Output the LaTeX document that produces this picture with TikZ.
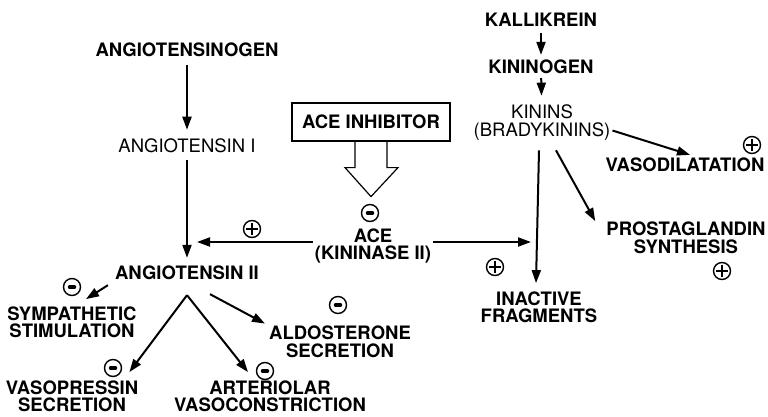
\documentclass[tikz,border=0pt]{standalone}
\usepackage{fontspec}
\setmainfont{TeX Gyre Heros}
\usetikzlibrary{arrows.meta,positioning}

\begin{document}
\begin{tikzpicture}[
    x=1pt, y=-1pt,
    lbl/.style={align=center, inner sep=2pt, font=\fontsize{18.5}{17.5}\selectfont\bfseries},
    lightlbl/.style={lbl, font=\fontsize{18.5}{17.5}\selectfont},
    arrow/.style={-{Triangle[length=13pt,width=9pt]}, line width=2pt},
    sign/.style={circle, draw, line width=1.4pt, minimum size=17pt, inner sep=0pt},
    plus/.style={sign, path picture={\draw[line width=1.4pt] ([xshift=-6pt]path picture bounding box.center) -- ([xshift=6pt]path picture bounding box.center) ([yshift=-6pt]path picture bounding box.center) -- ([yshift=6pt]path picture bounding box.center);}},
    minus/.style={sign, path picture={\draw[line width=3.5pt, line cap=round] ([xshift=-2.5pt]path picture bounding box.center) -- ([xshift=2.5pt]path picture bounding box.center);}}
  ]
    \useasboundingbox (0,0) rectangle (768,416);
    % renin-angiotensin side
    \node[lbl] (agen) at (187,50) {ANGIOTENSINOGEN};
    \node[lightlbl] (a1) at (187,146) {ANGIOTENSIN I};
    \node[lbl] (a2) at (187,273) {ANGIOTENSIN II};
    \node[lbl] (symp) at (72,322) {SYMPATHETIC\\STIMULATION};
    \node[lbl] (aldo) at (340,341.5) {ALDOSTERONE\\SECRETION};
    \node[lbl, inner sep=0pt] (vpr) at (72,396) {VASOPRESSIN\\SECRETION};
    \node[lbl, inner sep=0pt] (art) at (270,396) {ARTERIOLAR\\VASOCONSTRICTION};
    % enzyme and inhibitor
    \node[lbl, draw, line width=1.2pt, minimum width=158pt, minimum height=38pt] (inh) at (371,122) {ACE INHIBITOR};
    \node[lbl] (ace) at (373,246) {ACE\\(KININASE II)};
    % kinin side
    \node[lbl] (kal) at (541,20) {KALLIKREIN};
    \node[lbl] (kgen) at (541,67) {KININOGEN};
    \node[lightlbl] (kin) at (542,122.5) {KININS\\(BRADYKININS)};
    \node[lbl] (vaso) at (685,165) {VASODILATATION};
    \node[lbl] (inact) at (539,307) {INACTIVE\\FRAGMENTS};
    \node[lbl] (prost) at (686,238) {PROSTAGLANDIN\\SYNTHESIS};
    % signs
    \node[minus] (m0) at (370,213) {};
    \node[plus] (p1) at (252,229) {};
    \node[plus] (p2) at (495,267) {};
    \node[plus] (p3) at (752,145) {};
    \node[plus] (p4) at (722,271) {};
    \node[minus] (m1) at (72,287) {};
    \node[minus] (m2) at (338,305) {};
    \node[minus] (m3) at (113,368) {};
    \node[minus] (m4) at (265,371) {};
    % hollow arrow of the inhibitor
    \draw[line width=1.2pt, line join=miter] ([xshift=-16pt]inh.south) -- ++(0,26) -- ++(-10,0) -- ++(26,29) -- ++(27,-29) -- ++(-11,0) -- ++(0,-26);
    % connectors
    \draw[arrow, shorten <=6pt, shorten >=7pt] (agen) -- (a1);
    \draw[arrow, shorten <=5pt, shorten >=6pt] (a1) -- (a2);
    \draw[arrow, shorten >=10pt] ([yshift=4pt]ace.west) -- ([yshift=4pt]ace.west -| a2);
    \draw[arrow, shorten >=8pt] ([yshift=4pt]ace.east) -- ([yshift=4pt]ace.east -| inact);
    \draw[arrow, shorten <=4pt, shorten >=3pt] (kal) -- (kgen);
    \draw[arrow, shorten <=2pt, shorten >=7pt] (kgen) -- (kin);
    \draw[arrow] ([xshift=-3pt,yshift=-8pt]kin.south) -- ([xshift=-3pt,yshift=6pt]inact.north);
    \draw[arrow] ([xshift=14pt,yshift=-8pt]kin.south) -- ([xshift=-9pt,yshift=-1pt]prost.north west);
    \draw[arrow] ([yshift=-8pt]kin.east) -- ([xshift=5pt,yshift=1pt]vaso.north);
    \draw[arrow] ([xshift=-5pt,yshift=-3pt]a2.south west) -- ([xshift=14pt,yshift=5pt]symp.north);
    \draw[arrow] ([xshift=23pt,yshift=-12pt]a2.south) -- ([xshift=-2pt]aldo.north west);
    \coordinate (fork) at ([yshift=-13pt]a2.south);
    \draw[arrow] (fork) -- ([xshift=-9pt,yshift=8pt]vpr.north east);
    \draw[arrow] (fork) -- ([xshift=-22pt,yshift=8pt]art.north);
\end{tikzpicture}
\end{document}
